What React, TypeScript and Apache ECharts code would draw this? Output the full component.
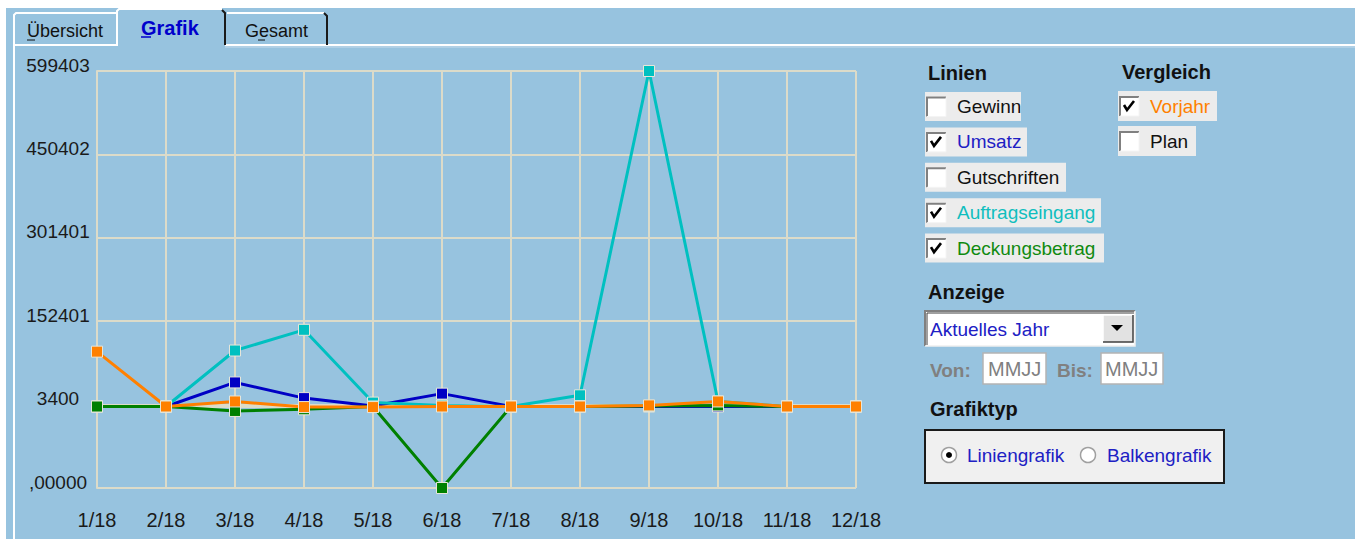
import React, { useEffect, useRef } from 'react';
import * as echarts from 'echarts';

const months = ['1/18', '2/18', '3/18', '4/18', '5/18', '6/18', '7/18', '8/18', '9/18', '10/18', '11/18', '12/18'];
const umsatz = [0, 0, 43000, 15000, 1000, 23000, 0, 0, 0, 0, 0, 0];
const auftragseingang = [0, 0, 100000, 137000, 7000, 2000, 0, 20000, 599403, 9000, 0, 0];
const deckungsbetrag = [0, 0, -8000, -5000, 0, -145601, 0, 0, 1000, 2000, 0, 0];
const vorjahr = [98000, 0, 9000, -1000, -1000, 0, 0, 0, 2000, 9000, 0, 0];
const yMin = -145601;
const yMax = 599403;
const yTickLabels = [',00000', '3400', '152401', '301401', '450402', '599403'];
const tabLabels = ['Übersicht', 'Grafik', 'Gesamt'];
const linienLabels = ['Gewinn', 'Umsatz', 'Gutschriften', 'Auftragseingang', 'Deckungsbetrag'];
const linienChecked = [false, true, false, true, true];
const vergleichLabels = ['Vorjahr', 'Plan'];
const vergleichChecked = [true, false];
const anzeigeValue = 'Aktuelles Jahr';
const grafiktypLabels = ['Liniengrafik', 'Balkengrafik'];

const FONT = '"Liberation Sans", Arial, sans-serif';
const BG = '#97C3DF';
const GRID = '#DCDBC9';
const C_BLUE = '#0000C4';
const C_CYAN = '#00C0C0';
const C_GREEN = '#008000';
const C_ORANGE = '#FF8000';
const TXT_BLUE = '#2020C4';

const linienColors = ['#111111', TXT_BLUE, '#111111', '#10BEBE', '#108A10'];
const linienRowW = [96, 102, 141, 176, 179];
const vergleichColors = [C_ORANGE, '#111111'];
const vergleichRowW = [99, 78];

function T(text: string, x: number, y: number, o: any = {}) {
  return {
    type: 'text', x, y, silent: true,
    style: {
      text, fill: o.color || '#111111', fontSize: o.size || 19, fontFamily: FONT,
      fontWeight: o.bold ? 'bold' : 'normal', align: o.align || 'left', verticalAlign: 'middle',
    },
  };
}
function L(x1: number, y1: number, x2: number, y2: number, stroke: string, lw = 1) {
  return { type: 'line', silent: true, shape: { x1, y1, x2, y2 }, style: { stroke, lineWidth: lw } };
}
function P(points: number[][], stroke: string, lw = 2) {
  return { type: 'polyline', silent: true, shape: { points }, style: { stroke, lineWidth: lw, fill: 'none' } };
}
function R(x: number, y: number, width: number, height: number, fill: string, stroke?: string, lw = 1) {
  return { type: 'rect', silent: true, shape: { x, y, width, height }, style: { fill, stroke: stroke || 'none', lineWidth: lw } };
}

function checkbox(x: number, cy: number, checked: boolean) {
  const y = cy - 10;
  const els: any[] = [
    R(x, y, 20, 20, '#FFFFFF'),
    P([[x + 1, y + 20], [x + 1, y + 1], [x + 20, y + 1]], '#808080', 2),
    P([[x + 1, y + 20], [x + 20, y + 20], [x + 20, y + 1]], '#F4F4F4', 1),
  ];
  if (checked) {
    els.push(P([[x + 5, y + 9], [x + 8, y + 14], [x + 15, y + 5]], '#000000', 2.6));
  }
  return els;
}

function buildGraphic() {
  const g: any[] = [];
  // page margins
  g.push(R(0, 0, 1355, 8, '#FFFFFF'));
  g.push(R(0, 0, 6, 539, '#FFFFFF'));
  // panel border
  g.push(L(14, 45, 14, 539, '#FFFFFF', 2));
  g.push(L(13, 45, 117, 45, '#FFFFFF', 2));
  g.push(L(225, 45, 1355, 45, '#FFFFFF', 2));
  g.push(L(225, 47, 1355, 47, '#C8DCEC', 1));
  // tab 1
  g.push(P([[14, 45], [14, 15], [16, 13], [116, 13]], '#FFFFFF', 2));
  g.push(T(tabLabels[0], 27, 31, { size: 18 }));
  g.push(L(27, 40, 35, 40, '#111111', 1));
  // tab 2 (selected)
  g.push(P([[117, 46], [117, 11], [119, 9], [222, 9]], '#FFFFFF', 2));
  g.push(P([[222, 10], [225, 13], [225, 45]], '#1A1A1A', 2));
  g.push(T(tabLabels[1], 141, 28, { size: 20, bold: true, color: '#0000CC' }));
  g.push(L(141, 37, 151, 37, '#0000CC', 1.5));
  // tab 3
  g.push(P([[227, 13], [324, 13]], '#FFFFFF', 2));
  g.push(P([[324, 13], [327, 16], [327, 45]], '#1A1A1A', 2));
  g.push(T(tabLabels[2], 245, 31, { size: 18 }));
  g.push(L(258, 40, 265, 40, '#111111', 1));

  // Linien
  g.push(T('Linien', 928, 73, { size: 20, bold: true }));
  linienLabels.forEach((lab, i) => {
    const cy = 106.5 + i * 35.4;
    g.push(R(925, cy - 14.5, linienRowW[i], 29, '#ECECEC'));
    checkbox(926, cy, linienChecked[i]).forEach((e) => g.push(e));
    g.push(T(lab, 957, cy, { color: linienColors[i] }));
  });
  // Vergleich
  g.push(T('Vergleich', 1122, 72, { size: 20, bold: true }));
  vergleichLabels.forEach((lab, i) => {
    const cy = 106 + i * 35;
    g.push(R(1118, cy - 15, vergleichRowW[i], 30, '#ECECEC'));
    checkbox(1119, cy, vergleichChecked[i]).forEach((e) => g.push(e));
    g.push(T(lab, 1150, cy, { color: vergleichColors[i] }));
  });

  // Anzeige
  g.push(T('Anzeige', 928, 292, { size: 20, bold: true }));
  g.push(R(925, 311, 210, 35, '#FFFFFF'));
  g.push(P([[925, 346], [925, 311], [1135, 311]], '#808080', 2));
  g.push(P([[927, 345], [927, 313], [1134, 313]], '#404040', 1));
  g.push(P([[925, 346], [1135, 346], [1135, 311]], '#F0F0F0', 1.5));
  g.push(T(anzeigeValue, 930, 329, { color: TXT_BLUE }));
  g.push(R(1103, 315, 30, 27, '#E2E2E2'));
  g.push(P([[1103, 342], [1103, 315], [1133, 315]], '#FFFFFF', 1.5));
  g.push(P([[1103, 342], [1133, 342], [1133, 315]], '#404040', 1.5));
  g.push({ type: 'polygon', silent: true, shape: { points: [[1111, 325], [1123, 325], [1117, 331]] }, style: { fill: '#000000' } });

  g.push(T('Von:', 930, 370, { bold: true, color: '#808080' }));
  g.push(R(983, 353, 63, 31, '#FFFFFF', '#B4B4B4', 1.5));
  g.push(T('MMJJ', 988, 369, { size: 20, color: '#808080' }));
  g.push(T('Bis:', 1057, 370, { bold: true, color: '#808080' }));
  g.push(R(1101, 353, 62, 31, '#FFFFFF', '#B4B4B4', 1.5));
  g.push(T('MMJJ', 1105, 369, { size: 20, color: '#808080' }));

  // Grafiktyp
  g.push(T('Grafiktyp', 930, 409, { size: 20, bold: true }));
  g.push(R(925, 430, 299, 53, '#F0F0F0', '#1A1A1A', 2));
  const radioX = [949, 1088];
  const textX = [967, 1107];
  grafiktypLabels.forEach((lab, i) => {
    g.push({ type: 'circle', silent: true, shape: { cx: radioX[i], cy: 455, r: 7.5 }, style: { fill: '#FFFFFF', stroke: '#A0A0A0', lineWidth: 1.5 } });
    if (i === 0) g.push({ type: 'circle', silent: true, shape: { cx: radioX[i], cy: 455, r: 3 }, style: { fill: '#000000' } });
    g.push(T(lab, textX[i], 455, { color: TXT_BLUE }));
  });
  return g;
}

function series(name: string, data: number[], color: string) {
  return {
    name, type: 'line', data, symbol: 'rect', symbolSize: 11, showAllSymbol: true,
    lineStyle: { color, width: 3 },
    itemStyle: { color, borderColor: '#E6E6DA', borderWidth: 1 },
    emphasis: { disabled: true },
  };
}

export default function App() {
  const ref = useRef<HTMLDivElement>(null);
  useEffect(() => {
    const chart = echarts.init(ref.current!, null, { renderer: 'svg' });
    const option: any = {
      animation: false,
      backgroundColor: BG,
      grid: { left: 97, right: 499, top: 71, bottom: 51, containLabel: false },
      xAxis: {
        type: 'category', data: months, boundaryGap: false,
        axisLine: { show: true, lineStyle: { color: GRID, width: 2 } },
        axisTick: { show: false },
        splitLine: { show: true, interval: 0, lineStyle: { color: GRID, width: 2 } },
        axisLabel: { interval: 0, color: '#1A1A1A', fontSize: 20, fontFamily: FONT, margin: 22 },
      },
      yAxis: {
        type: 'value', min: yMin, max: yMax, interval: (yMax - yMin) / 5,
        axisLine: { show: true, lineStyle: { color: GRID, width: 2 } },
        axisTick: { show: false },
        splitLine: { show: true, lineStyle: { color: GRID, width: 2 } },
        axisLabel: {
          color: '#1A1A1A', fontSize: 19, fontFamily: FONT, margin: 39, align: 'center',
          verticalAlign: 'bottom', lineHeight: 12,
          formatter: (_v: number, i: number) => yTickLabels[i] ?? '',
        },
      },
      series: [
        series('Umsatz', umsatz, C_BLUE),
        series('Auftragseingang', auftragseingang, C_CYAN),
        series('Deckungsbetrag', deckungsbetrag, C_GREEN),
        series('Vorjahr', vorjahr, C_ORANGE),
      ],
      graphic: buildGraphic(),
    };
    chart.setOption(option);
    return () => chart.dispose();
  }, []);
  return <div ref={ref} style={{ position: 'fixed', left: 0, top: 0, width: 1355, height: 539 }} />;
}
